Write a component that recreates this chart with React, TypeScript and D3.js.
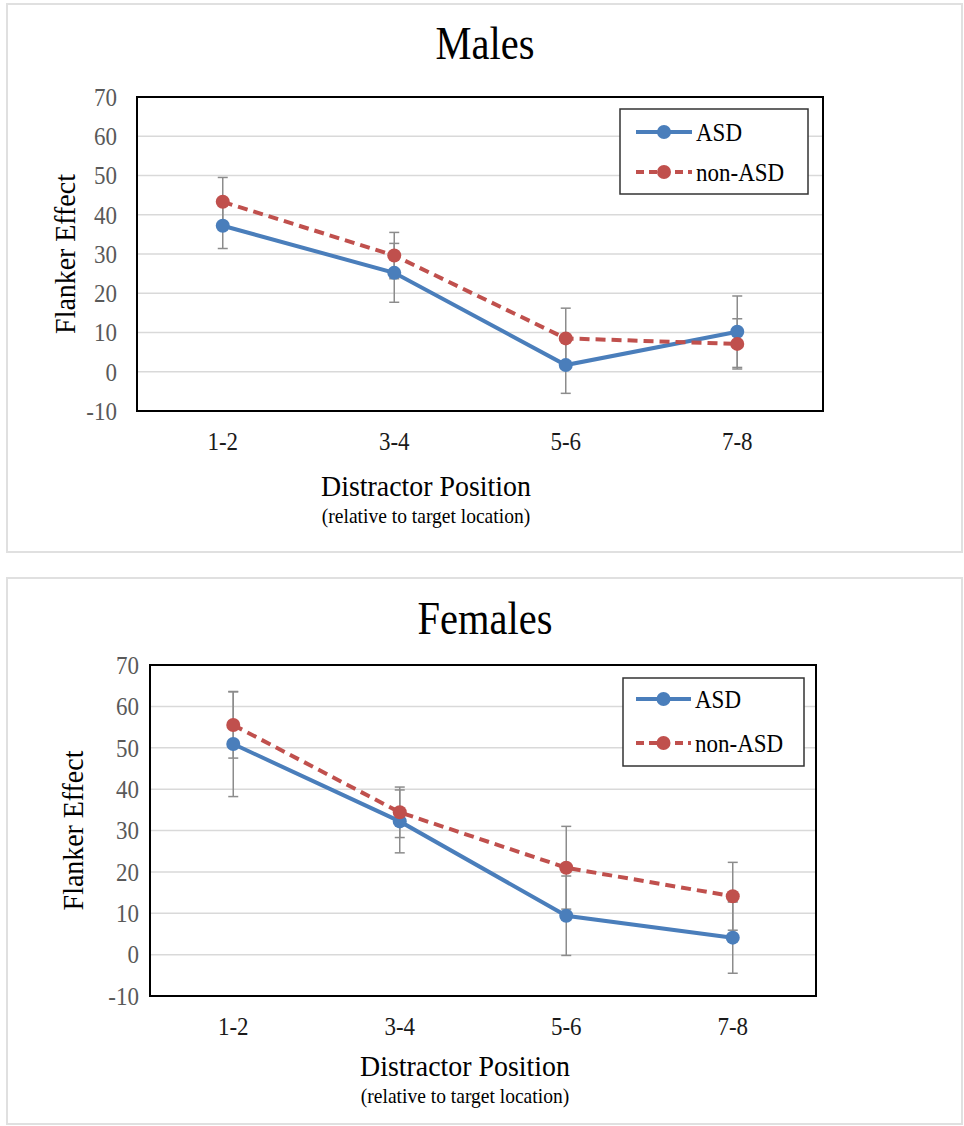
import React, { useEffect } from 'react';
import * as d3 from 'd3';

const categories = ['1-2', '3-4', '5-6', '7-8'];
const yTicks = [-10, 0, 10, 20, 30, 40, 50, 60, 70];
const seriesNames = ['ASD', 'non-ASD'];

const malesASD = [37.2, 25.2, 1.7, 10.2];
const malesASDErr = [5.8, 7.5, 7.2, 9.1];
const malesNonASD = [43.3, 29.6, 8.5, 7.1];
const malesNonASDErr = [6.2, 5.9, 7.7, 6.4];

const femalesASD = [50.9, 32.2, 9.4, 4.1];
const femalesASDErr = [12.7, 7.6, 9.6, 8.6];
const femalesNonASD = [55.5, 34.4, 21.0, 14.1];
const femalesNonASDErr = [8.0, 6.1, 10.0, 8.2];

const FONT = '"Liberation Serif", "Times New Roman", serif';
const BLUE = '#4a7ebb';
const RED = '#c0504d';

type Panel = {
  title: string;
  box: [number, number, number, number];
  plot: { left: number; right: number; top: number; bottom: number };
  tickGap: number;
  titleY: number;
  yTitleX: number;
  xTitleX: number;
  xTitleY: number;
  legend: { x0: number; x1: number; y0: number; y1: number; rows: [number, number]; lineX: [number, number]; textX: number };
  asd: number[];
  asdErr: number[];
  non: number[];
  nonErr: number[];
};

const panels: Panel[] = [
  {
    title: 'Males',
    box: [7, 4, 962, 552],
    plot: { left: 137, right: 823, top: 97, bottom: 411 },
    tickGap: 20,
    titleY: 59,
    yTitleX: 64,
    xTitleX: 426,
    xTitleY: 496,
    legend: { x0: 620, x1: 808, y0: 109, y1: 194, rows: [132, 172], lineX: [636, 692], textX: 696 },
    asd: malesASD, asdErr: malesASDErr, non: malesNonASD, nonErr: malesNonASDErr,
  },
  {
    title: 'Females',
    box: [7, 578, 962, 1124],
    plot: { left: 150, right: 816, top: 665, bottom: 996 },
    tickGap: 11,
    titleY: 634,
    yTitleX: 72,
    xTitleX: 465,
    xTitleY: 1076,
    legend: { x0: 623, x1: 804, y0: 678, y1: 766, rows: [699, 743], lineX: [636, 691], textX: 695 },
    asd: femalesASD, asdErr: femalesASDErr, non: femalesNonASD, nonErr: femalesNonASDErr,
  },
];

// text in the source looks a bit narrow and tall, so squeeze it horizontally
const squeeze = (x: number, y: number, sx = 0.92) => `translate(${x},${y}) scale(${sx},1)`;

function ChartPanel({ p }: { p: Panel }) {
  const x = d3.scaleBand<string>().domain(categories).range([p.plot.left, p.plot.right]);
  const y = d3.scaleLinear().domain([-10, 70]).range([p.plot.bottom, p.plot.top]);
  const cx = (c: string) => (x(c) as number) + x.bandwidth() / 2;
  const line = d3.line<number>().x((_, i) => cx(categories[i])).y((d) => y(d));
  const series = [
    { name: seriesNames[0], vals: p.asd, err: p.asdErr, color: BLUE, dash: undefined as string | undefined },
    { name: seriesNames[1], vals: p.non, err: p.nonErr, color: RED, dash: '10,6' },
  ];
  const cap = 5;
  const yMid = (p.plot.top + p.plot.bottom) / 2;
  return (
    <g>
      <rect x={p.box[0]} y={p.box[1]} width={p.box[2] - p.box[0]} height={p.box[3] - p.box[1]} fill="#fff" stroke="#e0e0e0" strokeWidth={2} />
      <text transform={squeeze(485, p.titleY, 0.88)} textAnchor="middle" fontSize={46} fontFamily={FONT} fill="#000">{p.title}</text>
      {yTicks.map((t) => (
        <g key={t}>
          {t > -10 && t < 70 && (
            <line x1={p.plot.left} x2={p.plot.right} y1={y(t)} y2={y(t)} stroke="#d9d9d9" strokeWidth={1.5} />
          )}
          <text transform={squeeze(p.plot.left - p.tickGap, y(t))} dy="0.35em" textAnchor="end" fontSize={25} fontFamily={FONT} fill="#595959">{t}</text>
        </g>
      ))}
      {categories.map((c) => (
        <text key={c} transform={squeeze(cx(c), p.plot.bottom + 39)} textAnchor="middle" fontSize={25} fontFamily={FONT} fill="#1a1a1a">{c}</text>
      ))}
      {series.map((s) => (
        <g key={s.name + 'err'}>
          {s.vals.map((v, i) => {
            const px = cx(categories[i]);
            const hi = y(v + s.err[i]);
            const lo = y(v - s.err[i]);
            return (
              <g key={i} stroke="#8c8c8c" strokeWidth={1.5}>
                <line x1={px} x2={px} y1={hi} y2={lo} />
                <line x1={px - cap} x2={px + cap} y1={hi} y2={hi} />
                <line x1={px - cap} x2={px + cap} y1={lo} y2={lo} />
              </g>
            );
          })}
        </g>
      ))}
      {series.map((s) => (
        <g key={s.name}>
          <path d={line(s.vals) || ''} fill="none" stroke={s.color} strokeWidth={4} strokeDasharray={s.dash} />
          {s.vals.map((v, i) => (
            <circle key={i} cx={cx(categories[i])} cy={y(v)} r={7} fill={s.color} />
          ))}
        </g>
      ))}
      <rect x={p.plot.left} y={p.plot.top} width={p.plot.right - p.plot.left} height={p.plot.bottom - p.plot.top} fill="none" stroke="#000" strokeWidth={2} />
      <rect x={p.legend.x0} y={p.legend.y0} width={p.legend.x1 - p.legend.x0} height={p.legend.y1 - p.legend.y0} fill="#fff" stroke="#333" strokeWidth={1.5} />
      {series.map((s, i) => {
        const ly = p.legend.rows[i];
        const mx = (p.legend.lineX[0] + p.legend.lineX[1]) / 2;
        return (
          <g key={s.name + 'leg'}>
            <line x1={p.legend.lineX[0]} x2={p.legend.lineX[1]} y1={ly} y2={ly} stroke={s.color} strokeWidth={4} strokeDasharray={s.dash ? '8,5' : undefined} />
            <circle cx={mx} cy={ly} r={7} fill={s.color} />
            <text transform={squeeze(p.legend.textX, ly)} dy="0.35em" fontSize={25} fontFamily={FONT} fill="#000">{s.name}</text>
          </g>
        );
      })}
      <text transform={`translate(${p.yTitleX},${yMid}) rotate(-90) scale(0.93,1)`} dy="0.35em" textAnchor="middle" fontSize={30} fontFamily={FONT} fill="#000">Flanker Effect</text>
      <text transform={squeeze(p.xTitleX, p.xTitleY, 0.93)} textAnchor="middle" fontSize={30} fontFamily={FONT} fill="#000">Distractor Position</text>
      <text transform={squeeze(p.xTitleX, p.xTitleY + 27, 0.93)} textAnchor="middle" fontSize={21} fontFamily={FONT} fill="#000">(relative to target location)</text>
    </g>
  );
}

export default function App() {
  useEffect(() => {
    document.body.style.margin = '0';
  }, []);
  return (
    <svg width={964} height={1126} viewBox="0 0 964 1126" style={{ display: 'block', background: '#fff' }}>
      {panels.map((p) => (
        <ChartPanel key={p.title} p={p} />
      ))}
    </svg>
  );
}
